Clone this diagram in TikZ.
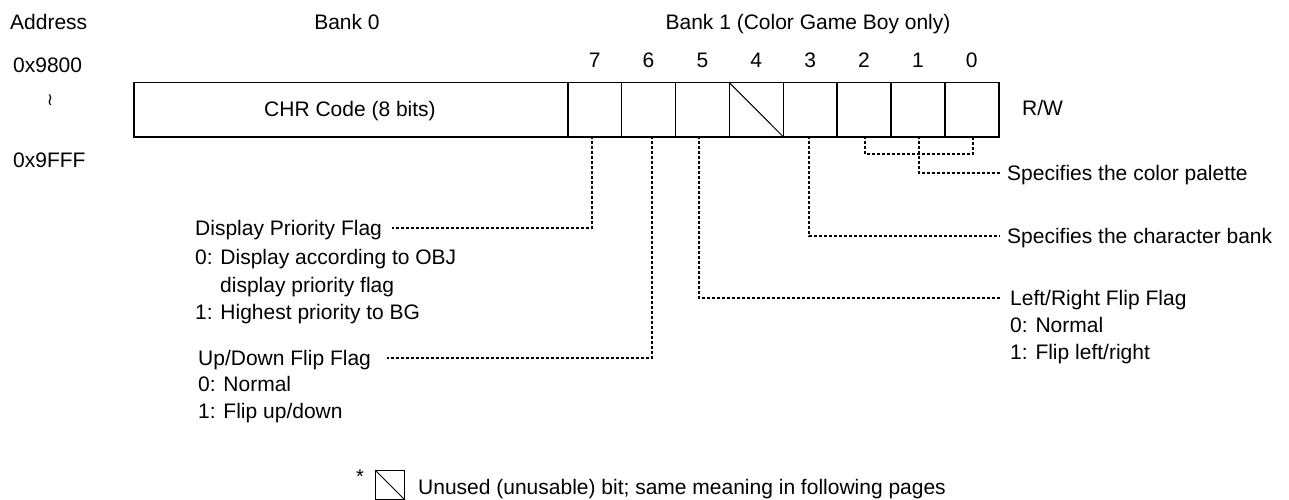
\documentclass[tikz,border=0pt]{standalone}
\usepackage{fontspec}
\setmainfont{Liberation Sans}
\newfontfamily\symfont{DejaVu Sans}
\begin{document}
\begin{tikzpicture}[x=1pt,y=-1pt,
  txt/.style={inner sep=0pt,text height=15pt,text depth=0pt,font=\fontsize{21}{25}\selectfont},
  lt/.style={txt,anchor=west},
  ct/.style={txt,anchor=center},
  cellbox/.style={draw,line width=1.5pt,minimum width=53.875pt,minimum height=54pt,inner sep=0pt,anchor=north west},
  leader/.style={line width=1.5pt,dash pattern=on 3pt off 2pt}]
\useasboundingbox (0,0) rectangle (1289,500);
\fill[white] (0,0) rectangle (1289,500);
% headers
\node[lt] (addr) at (10,22) {Address};
\node[ct] (bank0) at (347,22) {Bank 0};
\node[ct] (bank1) at (808,22) {Bank 1 (Color Game Boy only)};
\node[lt] (a1) at (13,65) {0x9800};
\node[inner sep=0pt,font=\symfont\fontsize{17}{19}\selectfont] (wave) at (50,100) {≀};
\node[lt] (a2) at (13,160) {0x9FFF};
% main box
\node[cellbox,minimum width=434pt] (chr) at (133,82) {};
\node[ct] (chrt) at (350,109) {CHR Code (8 bits)};
\foreach \i/\b in {0/7,1/6,2/5,3/4,4/3,5/2,6/1,7/0}{
  \node[cellbox] (c\b) at ({567+\i*53.875},82) {};
  \node[ct] (n\b) at (c\b.center |- 0,60) {\b};
}
\draw[line width=1pt] (c4.north west) -- (c4.south east);
\node[lt] (rw) at (1022,108) {R/W};
% leader coordinates
\coordinate (l7) at (592,136);
\coordinate (l6) at (652,136);
\coordinate (l5) at (699,136);
\coordinate (l3) at (809,136);
\coordinate (l2) at (865,136);
\coordinate (l1) at (919,136);
\coordinate (l0) at (973,136);
% right texts
\node[lt] (pal) at (1007,173) {Specifies the color palette};
\node[lt] (chb) at (1007,236) {Specifies the character bank};
\node[lt] (lr1) at (1010,298) {Left/Right Flip Flag};
\node[lt] (lr2) at (1010,325) {0: Normal};
\node[lt] (lr3) at (1010,352) {1: Flip left/right};
% left texts
\node[lt] (dp1) at (195,228) {Display Priority Flag};
\node[lt] (dp2) at (195,257) {0: Display according to OBJ};
\node[lt] (dp3) at (220,285) {display priority flag};
\node[lt] (dp4) at (195,312) {1: Highest priority to BG};
\node[lt] (ud1) at (198,358) {Up/Down Flip Flag};
\node[lt] (ud2) at (198,384) {0: Normal};
\node[lt] (ud3) at (198,411) {1: Flip up/down};
% leaders
\draw[leader] (l7) |- ([xshift=10pt]dp1.east);
\draw[leader] (l6) |- ([xshift=16pt]ud1.east);
\draw[leader] (l5) |- ([xshift=-10pt]lr1.west);
\draw[leader] (l3) |- ([xshift=-7pt]chb.west);
\draw[leader] (l2) -- ++(0,18) -| (l0);
\draw[leader] (l1) |- ([xshift=-7pt]pal.west);
% footnote
\node[inner sep=0pt,font=\fontsize{20}{22}\selectfont] (star) at (360,477) {*};
\node[draw,line width=1.3pt,minimum width=29pt,minimum height=29pt,inner sep=0pt,anchor=north west] (ub) at (375,470) {};
\draw[line width=1pt] (ub.north west) -- (ub.south east);
\node[lt] (unused) at (418,487) {Unused (unusable) bit; same meaning in following pages};
\end{tikzpicture}
\end{document}
